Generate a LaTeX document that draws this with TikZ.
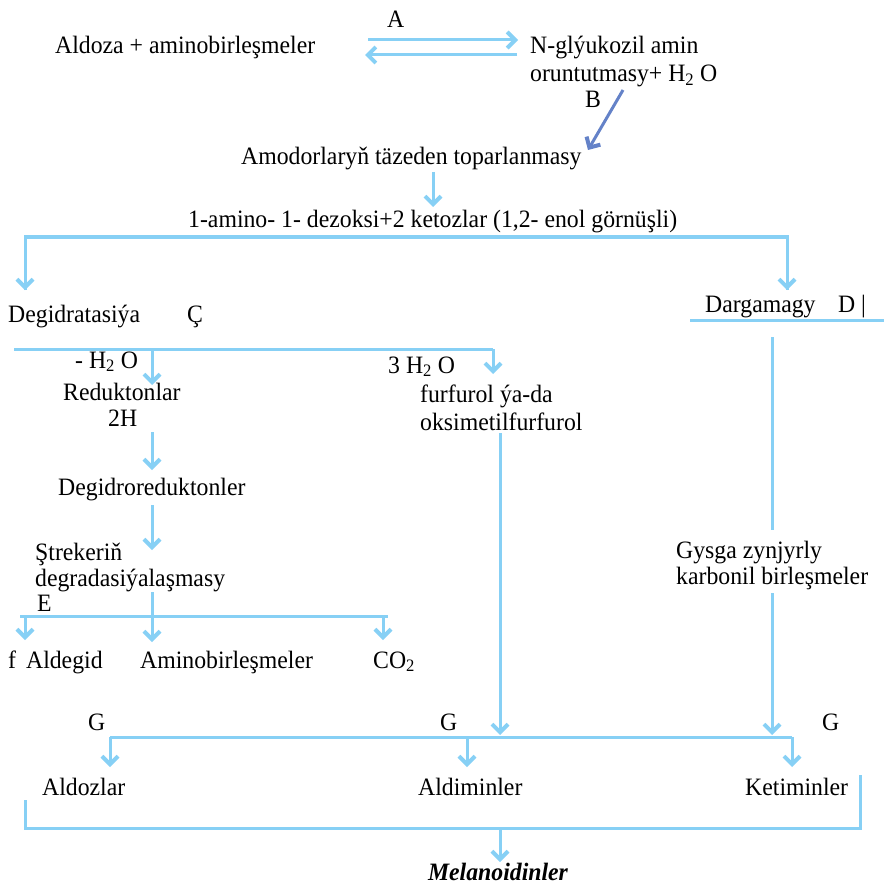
\documentclass[tikz,border=0pt]{standalone}
\usepackage{fontspec}
\setmainfont[FakeStretch=0.95]{Liberation Serif}
\usetikzlibrary{arrows.meta}
\definecolor{lb}{RGB}{135,208,245}
\definecolor{sb}{RGB}{100,130,200}
\begin{document}
\begin{tikzpicture}[x=1pt,y=-1pt,
  font=\fontsize{25}{29}\selectfont,
  txt/.style={inner sep=0pt, anchor=base west},
  conn/.style={draw=lb, line width=3pt},
  arr/.style={conn, -{Straight Barb[length=8pt,width=16pt,line width=4pt]}},
  darr/.style={draw=sb, line width=3pt, -{Straight Barb[length=8pt,width=16pt,line width=4pt]}}]
\useasboundingbox (0,0) rectangle (884,885);
% texts
\node[txt] (lA) at (387,28) {A};
\node[txt] (ald) at (55,54) {Aldoza + aminobirleşmeler};
\node[txt] (ngl) at (530,54) {N-glýukozil amin};
\node[txt] (orun) at (530,82) {oruntutmasy+ H\textsubscript{2} O};
\node[txt] (lB) at (585,108) {B};
\node[txt] (amod) at (241,165) {Amodorlaryň täzeden toparlanmasy};
\node[txt] (amino) at (188,228) {1-amino- 1- dezoksi+2 ketozlar (1,2- enol görnüşli)};
\node[txt] (degi) at (8,322) {Degidratasiýa};
\node[txt] (lC) at (187,322) {Ç};
\node[txt] (darg) at (705,312) {Dargamagy\hspace{0.9em}D |};
\node[txt] (h2o) at (75,368) {- H\textsubscript{2} O};
\node[txt] (red) at (63,400) {Reduktonlar};
\node[txt] (twoH) at (108,426) {2H};
\node[txt] (h2o3) at (388,373) {3 H\textsubscript{2} O};
\node[txt] (fur1) at (420,402) {furfurol ýa-da};
\node[txt] (fur2) at (420,430) {oksimetilfurfurol};
\node[txt] (degr) at (58,495) {Degidroreduktonler};
\node[txt] (str1) at (35,560) {Ştrekeriň};
\node[txt] (str2) at (35,586) {degradasiýalaşmasy};
\node[txt] (lE) at (37,611) {E};
\node[txt] (aldeg) at (8,668) {f\hspace{0.4em}Aldegid};
\node[txt] (amb) at (140,668) {Aminobirleşmeler};
\node[txt] (co2) at (373,668) {CO\textsubscript{2}};
\node[txt] (gys1) at (676,558) {Gysga zynjyrly};
\node[txt] (gys2) at (676,584) {karbonil birleşmeler};
\node[txt] (G1) at (88,730) {G};
\node[txt] (G2) at (440,730) {G};
\node[txt] (G3) at (822,730) {G};
\node[txt] (aldz) at (42,795) {Aldozlar};
\node[txt] (aldm) at (418,795) {Aldiminler};
\node[txt] (ket) at (745,795) {Ketiminler};
\node[inner sep=0pt, anchor=base, font=\fontsize{25}{29}\selectfont\bfseries\itshape] (mel) at (498,880) {Melanoidinler};
% connectors
\draw[arr] (368,40) -- (518,40);
\draw[arr] (517,55) -- (365,55);
\draw[darr] (623,90) -- (588,150);
\draw[arr] (433,172) -- (433,207);
\draw[conn] (25,290) |- (787,237) -- (787,290);
\draw[arr] (25,240) -- (25,290);
\draw[arr] (787,240) -- (787,290);
\draw[conn] (690,320) -- (884,320);
\draw[conn] (14,349) -- (493,349);
\draw[arr] (152,349) -- (152,385);
\draw[arr] (493,349) -- (493,374);
\draw[arr] (152,432) -- (152,470);
\draw[arr] (152,505) -- (152,550);
\draw[conn] (20,616) -- (388,616);
\draw[arr] (152,592) -- (152,642);
\draw[arr] (25,616) -- (25,640);
\draw[arr] (383,616) -- (383,640);
\draw[arr] (500,433) -- (500,735);
\draw[conn] (772,337) -- (772,530);
\draw[arr] (772,593) -- (772,735);
\draw[conn] (110,737) -- (792,737);
\draw[arr] (110,737) -- (110,767);
\draw[arr] (467,737) -- (467,767);
\draw[arr] (792,737) -- (792,767);
\draw[conn] (25,800) |- (860,828) -- (860,775);
\draw[arr] (500,828) -- (500,862);
\end{tikzpicture}
\end{document}
